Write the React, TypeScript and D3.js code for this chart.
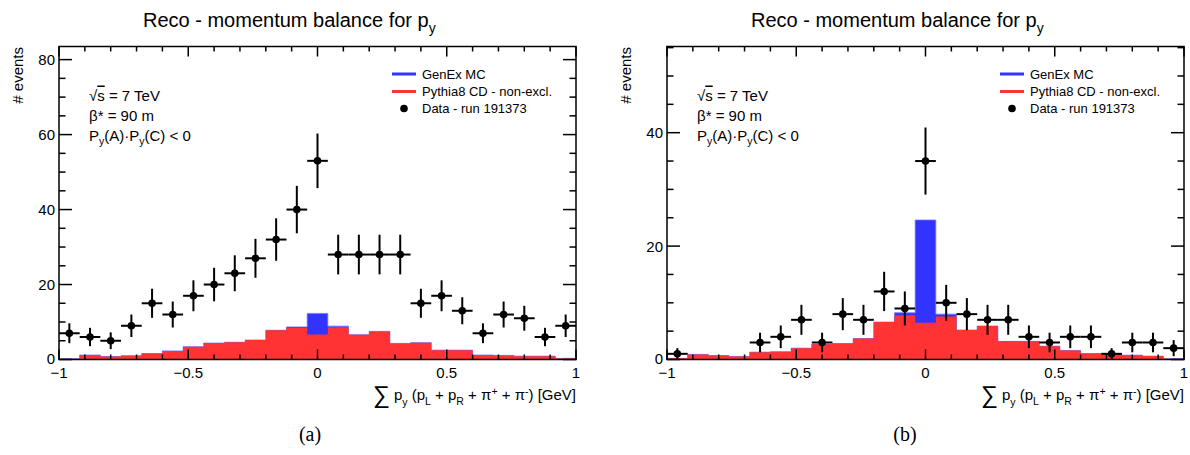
import React from 'react';
import * as d3 from 'd3';

// bin centres (bin width 0.08 GeV)
const binCenters = [-0.96, -0.88, -0.8, -0.72, -0.64, -0.56, -0.48, -0.4, -0.32, -0.24, -0.16, -0.08, 0, 0.08, 0.16, 0.24, 0.32, 0.4, 0.48, 0.56, 0.64, 0.72, 0.8, 0.88, 0.96];
const binHalfWidth = 0.04;

// panel (a)
const dataA: (number | null)[] = [7, 6, 5, 9, 15, 12, 17, 20, 23, 27, 32, 40, 53, 28, 28, 28, 28, 15, 17, 13, 7, 12, 11, 6, 9];
const pythiaA = [0.2, 1.2, 0.8, 1.0, 1.6, 2.3, 3.4, 4.4, 4.6, 5.2, 7.8, 8.4, 6.7, 8.6, 6.6, 7.5, 4.3, 4.5, 2.5, 2.5, 1.2, 1.1, 0.9, 0.9, 0.3];
const genexA = [0, 0, 0, 0, 0, 0, 0, 0, 0, 0, 0, 0.3, 5.6, 0.3, 0, 0, 0, 0, 0, 0, 0, 0, 0, 0, 0];

// panel (b)
const dataB: (number | null)[] = [1, null, null, null, 3, 4, 7, 3, 8, 7, 12, 9, 35, 10, 8, 7, 7, 4, 3, 4, 4, 1, 3, 3, 2];
const pythiaB = [0.2, 0.9, 0.7, 0.55, 1.3, 1.35, 2.0, 2.7, 2.8, 3.7, 6.6, 7.8, 6.5, 7.6, 5.2, 5.9, 3.2, 3.2, 2.35, 1.6, 1.06, 0.94, 0.76, 0.6, 0.15];
const genexB = [0, 0, 0, 0, 0, 0, 0, 0, 0, 0, 0, 0.45, 18.1, 0.4, 0, 0, 0, 0, 0, 0, 0, 0, 0, 0, 0];

const xMajorTicks = [-1, -0.5, 0, 0.5, 1];
const xTickLabels = ['\u22121', '\u22120.5', '0', '0.5', '1'];
const yTicksA = [0, 20, 40, 60, 80];
const yTicksB = [0, 20, 40];

const legendLabels = ['GenEx MC', 'Pythia8 CD - non-excl.', 'Data - run 191373'];

const BLUE = '#3333ff';
const RED = '#ff3333';
const FONT = '"Liberation Sans", Arial, Helvetica, sans-serif';

const FRAME_W = 517;
const TOP = 46.5;
const BOTTOM = 359.5;

type PanelProps = {
  x0: number;
  data: (number | null)[];
  pythia: number[];
  genex: number[];
  yMax: number;
  yTicks: number[];
  letter: string;
  letterX: number;
};

function Panel({ x0, data, pythia, genex, yMax, yTicks, letter, letterX }: PanelProps) {
  const x = d3.scaleLinear().domain([-1, 1]).range([x0, x0 + FRAME_W]);
  const y = d3.scaleLinear().domain([0, yMax]).range([BOTTOM, TOP]);

  const stepArea = (vals: number[]) => {
    const pts: [number, number][] = binCenters.map((c, i) => [c - binHalfWidth, vals[i]]);
    pts.push([binCenters[binCenters.length - 1] + binHalfWidth, vals[vals.length - 1]]);
    return d3
      .area<[number, number]>()
      .x((d) => x(d[0]))
      .y0(y(0))
      .y1((d) => y(d[1]))
      .curve(d3.curveStepAfter)(pts) as string;
  };

  const stack = pythia.map((p, i) => p + genex[i]);
  const xMinor = x.ticks(20).filter((t) => !xMajorTicks.some((m) => Math.abs(m - t) < 1e-9));
  const yMinor = d3.range(0, yMax, 5).filter((t) => !yTicks.includes(t));

  const xMajLen = 10;
  const xMinLen = 5;
  const yMajLen = 13;
  const yMinLen = 6.5;
  const right = x0 + FRAME_W;

  const legX = x0 + 333;
  const legYs = [74, 91.5, 108.5];
  const infoX = x0 + 30;

  return (
    <g>
      {/* title */}
      <text x={x0 + 84} y={27} fontFamily={FONT} fontSize={20} fill="#000">
        Reco - momentum balance for p
        <tspan fontSize={14} dy={6}>y</tspan>
      </text>

      {/* histograms */}
      <path d={stepArea(stack)} fill={BLUE} stroke="#7777ff" strokeWidth={0.8} />
      <path d={stepArea(pythia)} fill={RED} stroke="none" />

      {/* data points */}
      {binCenters.map((c, i) => {
        const v = data[i];
        if (v === null || v === undefined) return null;
        const err = Math.sqrt(v);
        const lo = Math.max(0, v - err);
        return (
          <g key={i}>
            <line x1={x(c - binHalfWidth)} x2={x(c + binHalfWidth)} y1={y(v)} y2={y(v)} stroke="#000" strokeWidth={2} />
            <line x1={x(c)} x2={x(c)} y1={y(v + err)} y2={y(lo)} stroke="#000" strokeWidth={2} />
            <circle cx={x(c)} cy={y(v)} r={3.8} fill="#000" />
          </g>
        );
      })}

      {/* frame */}
      <rect x={x0} y={TOP} width={FRAME_W} height={BOTTOM - TOP} fill="none" stroke="#000" strokeWidth={1.5} />

      {/* x ticks bottom and top */}
      {xMajorTicks.map((t, i) => (
        <g key={'xm' + i}>
          <line x1={x(t)} x2={x(t)} y1={BOTTOM} y2={BOTTOM - xMajLen} stroke="#000" strokeWidth={1.5} />
          <line x1={x(t)} x2={x(t)} y1={TOP} y2={TOP + xMajLen} stroke="#000" strokeWidth={1.5} />
          <text x={x(t)} y={377.5} textAnchor="middle" fontFamily={FONT} fontSize={15} fill="#000">
            {xTickLabels[i]}
          </text>
        </g>
      ))}
      {xMinor.map((t, i) => (
        <g key={'xn' + i}>
          <line x1={x(t)} x2={x(t)} y1={BOTTOM} y2={BOTTOM - xMinLen} stroke="#000" strokeWidth={1.5} />
          <line x1={x(t)} x2={x(t)} y1={TOP} y2={TOP + xMinLen} stroke="#000" strokeWidth={1.5} />
        </g>
      ))}

      {/* y ticks left and right */}
      {yTicks.map((t, i) => (
        <g key={'ym' + i}>
          <line x1={x0} x2={x0 + yMajLen} y1={y(t)} y2={y(t)} stroke="#000" strokeWidth={1.5} />
          <line x1={right} x2={right - yMajLen} y1={y(t)} y2={y(t)} stroke="#000" strokeWidth={1.5} />
          <text x={x0 - 4} y={y(t) + (t === 0 ? 4 : 5.5)} textAnchor="end" fontFamily={FONT} fontSize={15} fill="#000">
            {t}
          </text>
        </g>
      ))}
      {yMinor.map((t, i) => (
        <g key={'yn' + i}>
          <line x1={x0} x2={x0 + yMinLen} y1={y(t)} y2={y(t)} stroke="#000" strokeWidth={1.5} />
          <line x1={right} x2={right - yMinLen} y1={y(t)} y2={y(t)} stroke="#000" strokeWidth={1.5} />
        </g>
      ))}

      {/* y axis title */}
      <text
        transform={`translate(${x0 - 36.5},47) rotate(-90)`}
        textAnchor="end"
        fontFamily={FONT}
        fontSize={15}
        fill="#000"
      >
        # events
      </text>

      {/* x axis title */}
      <text x={right} y={400} textAnchor="end" fontFamily={FONT} fontSize={15} fill="#000">
        <tspan fontSize={24} dy={3}>∑</tspan>
        <tspan dy={-3}> p</tspan>
        <tspan fontSize={10.5} dy={6}>y</tspan>
        <tspan dy={-6}> (p</tspan>
        <tspan fontSize={10.5} dy={5}>L</tspan>
        <tspan dy={-5}> + p</tspan>
        <tspan fontSize={10.5} dy={5}>R</tspan>
        <tspan dy={-5}> + π</tspan>
        <tspan fontSize={10.5} dy={-5}>+</tspan>
        <tspan dy={5}> + π</tspan>
        <tspan fontSize={10.5} dy={-5}>-</tspan>
        <tspan dy={5}>) [GeV]</tspan>
      </text>

      {/* info text */}
      <text x={infoX} y={100.5} fontFamily={FONT} fontSize={15} fill="#000">
        √<tspan textDecoration="overline" style={{ textDecoration: 'overline' }}>s</tspan> = 7 TeV
      </text>
      <text x={infoX} y={120.5} fontFamily={FONT} fontSize={15} fill="#000">
        β* = 90 m
      </text>
      <text x={infoX} y={141} fontFamily={FONT} fontSize={15} fill="#000">
        P<tspan fontSize={10.5} dy={4}>y</tspan>
        <tspan dy={-4}>(A)·P</tspan>
        <tspan fontSize={10.5} dy={4}>y</tspan>
        <tspan dy={-4}>(C) &lt; 0</tspan>
      </text>

      {/* legend */}
      <line x1={legX} x2={legX + 24} y1={legYs[0]} y2={legYs[0]} stroke={BLUE} strokeWidth={3} />
      <line x1={legX} x2={legX + 24} y1={legYs[1]} y2={legYs[1]} stroke={RED} strokeWidth={3} />
      <circle cx={legX + 12} cy={legYs[2]} r={3.8} fill="#000" />
      {legendLabels.map((l, i) => (
        <text key={l} x={legX + 30} y={legYs[i] + 4.5} fontFamily={FONT} fontSize={13} fill="#000">
          {l}
        </text>
      ))}

      {/* panel letter */}
      <text x={letterX} y={441} textAnchor="middle" fontFamily='"Liberation Serif", "Times New Roman", serif' fontSize={20} fill="#000">
        {letter}
      </text>
    </g>
  );
}

export default function App() {
  return (
    <div style={{ position: 'fixed', left: 0, top: 0 }}>
      <svg width={1190} height={455} viewBox="0 0 1190 455" style={{ display: 'block', background: '#fff' }}>
        <rect x={0} y={0} width={1190} height={455} fill="#fff" />
        <Panel x0={59} data={dataA} pythia={pythiaA} genex={genexA} yMax={83.5} yTicks={yTicksA} letter="(a)" letterX={310} />
        <Panel x0={667} data={dataB} pythia={pythiaB} genex={genexB} yMax={55.2} yTicks={yTicksB} letter="(b)" letterX={905} />
      </svg>
    </div>
  );
}
